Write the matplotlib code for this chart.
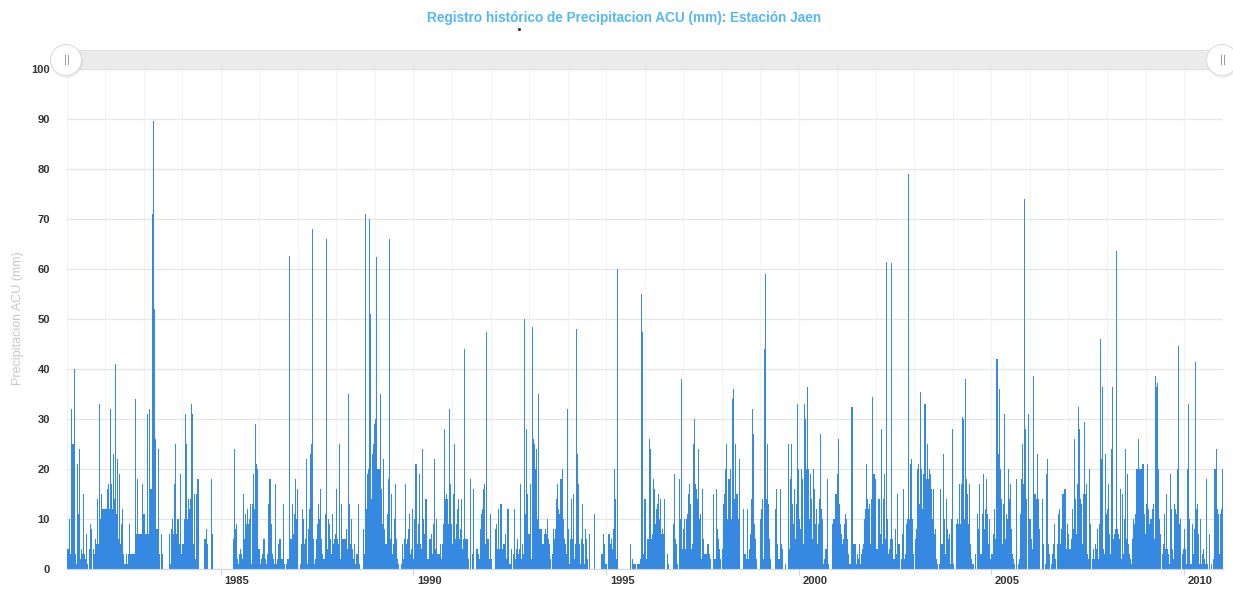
import numpy as np
import matplotlib.pyplot as plt
from matplotlib.patches import Rectangle, Circle
from matplotlib.transforms import ScaledTranslation

plt.rcParams['font.family'] = ['Liberation Sans', 'DejaVu Sans']

# precipitation (mm), ~38 readings per year
r1981 = [4, 4, 10, 3, 32, 25, 25, 40, 3, 1, 21, 11, 24, 2, 4, 3, 15, 3, 2, 7, 1, 0, 4, 9, 8, 0, 4, 3, 6, 5, 14, 5, 33, 10, 15, 12, 12, 12]
r1982 = [12, 12, 16, 17, 12, 32, 17, 12, 23, 14, 41, 11, 22, 6, 19, 5, 9, 12, 3, 1, 3, 1, 3, 9, 3, 3, 3, 3, 3, 34, 7, 18, 7, 7, 7, 7, 17, 11]
r1983 = [11, 7, 7, 31, 7, 32, 16, 16, 71, 89.7, 52, 26, 8, 8, 24, 3, 0, 7, 3, 0, 0, 0, 0, 0, 0, 7, 1, 8, 10, 7, 17, 25, 7, 10, 10, 5, 19, 3]
r1984 = [5, 5, 10, 31, 25, 10, 14, 12, 14, 33, 31, 5, 15, 2, 15, 18, 0, 0, 0, 0, 0, 6, 6, 8, 5, 0, 0, 0, 18, 7, 0, 0, 0, 0, 0, 0, 0, 0]
r1985 = [0, 0, 0, 0, 0, 0, 0, 0, 0, 0, 0, 0, 6, 24, 8, 9, 2, 1, 3, 4, 3, 2, 15, 6, 11, 9, 12, 9, 10, 13, 1, 13, 19, 12, 29, 21, 20, 4]
r1986 = [4, 1, 2, 3, 6, 6, 2, 1, 3, 13, 18, 9, 3, 2, 1, 17, 1, 2, 5, 6, 6, 2, 2, 13, 1, 0, 1, 2, 2, 62.7, 6, 6, 13, 7, 11, 18, 10, 16]
r1987 = [0, 0, 1, 5, 12, 10, 5, 6, 22, 1, 8, 12, 23, 25, 68, 6, 1, 2, 6, 9, 13, 10, 16, 6, 3, 2, 2, 11, 66, 4, 10, 9, 6, 3, 11, 5, 6, 7]
r1988 = [16, 6, 5, 25, 2, 13, 6, 6, 6, 8, 4, 35, 13, 5, 10, 4, 2, 5, 1, 3, 3, 13, 1, 0, 0, 0, 8, 3, 71, 12, 19, 20, 70, 51, 14, 23, 25, 29]
r1989 = [30, 62.5, 20, 20, 20, 35, 16, 9, 22, 8, 5, 5, 11, 18, 66, 6, 15, 3, 5, 10, 17, 6, 2, 1, 0, 0, 1, 5, 2, 6, 17, 5, 6, 8, 11, 3, 4, 12]
r1990 = [2, 10, 21, 5, 9, 19, 5, 4, 24, 10, 7, 14, 14, 2, 2, 6, 6, 7, 3, 9, 22, 4, 10, 3, 3, 3, 5, 2, 5, 9, 28, 14, 15, 14, 9, 32, 17, 9]
r1991 = [5, 15, 25, 6, 9, 12, 14, 6, 8, 14, 4, 6, 44, 6, 6, 6, 2, 0, 18, 0, 3, 16, 0, 0, 4, 4, 3, 2, 8, 11, 12, 16, 17, 5, 47.5, 6, 2, 11]
r1992 = [2, 0, 0, 0, 8, 9, 4, 12, 4, 13, 13, 4, 5, 5, 7, 2, 12, 12, 1, 1, 4, 0, 3, 12, 2, 4, 6, 3, 4, 17, 2, 5, 3, 50, 11, 28, 15, 7]
r1993 = [7, 17, 2, 48.5, 26, 25, 20, 24, 10, 35, 8, 8, 8, 5, 5, 7, 8, 7, 10, 6, 5, 2, 0, 3, 8, 6, 8, 14, 17, 12, 11, 18, 20, 10, 6, 5, 3, 32]
r1994 = [8, 1, 6, 14, 6, 15, 2, 5, 48, 23, 17, 5, 1, 6, 13, 5, 1, 8, 6, 2, 0, 7, 0, 0, 0, 0, 11, 0, 0, 0, 0, 0, 0, 3, 3, 7, 5, 1]
r1995 = [1, 0, 7, 7, 5, 6, 4, 8, 20, 14, 2, 60, 0, 0, 0, 0, 0, 0, 0, 0, 0, 0, 0, 0, 5, 0, 2, 1, 1, 0, 1, 1, 1, 2, 55, 47.5, 3, 14]
r1996 = [14, 2, 6, 6, 26, 24, 6, 7, 18, 16, 9, 12, 13, 15, 10, 14, 7, 8, 7, 14, 0, 0, 3, 1, 0, 0, 0, 0, 9, 19, 6, 5, 1, 0, 18, 10, 38, 4]
r1997 = [8, 10, 4, 10, 11, 15, 17, 13, 4, 5, 25, 30, 17, 16, 14, 24, 10, 11, 2, 16, 6, 3, 3, 5, 5, 3, 2, 0, 0, 15, 2, 2, 16, 8, 6, 4, 2, 0]
r1998 = [4, 13, 15, 20, 25, 10, 18, 18, 20, 10, 34, 36, 14, 25, 15, 15, 10, 22, 0, 0, 0, 12, 3, 3, 2, 12, 2, 4, 7, 14, 32, 27, 9, 6, 2, 0, 0, 0]
r1999 = [10, 12, 14, 2, 44, 59, 14, 25, 13, 6, 2, 0, 0, 0, 0, 12, 16, 5, 2, 16, 5, 4, 0, 0, 1, 0, 0, 25, 4, 18, 25, 13, 9, 16, 6, 13, 33, 20]
r2000 = [10, 8, 20, 18, 5, 33, 30, 20, 36.5, 20, 10, 19, 14, 6, 20, 16, 9, 12, 5, 9, 14, 27, 12, 10, 1, 2, 4, 4, 18, 1, 0, 0, 0, 9, 10, 10, 15, 15]
r2001 = [19, 26, 13, 9, 7, 5, 6, 9, 11, 10, 6, 3, 1, 1, 32.5, 5, 5, 5, 1, 3, 2, 5, 1, 3, 4, 5, 10, 12, 21, 14, 12, 13, 5, 14, 34.5, 19, 19, 18]
r2002 = [4, 4, 14, 14, 7, 28, 5, 14, 19, 6, 61.5, 10, 3, 4, 6, 61.3, 6, 2, 2, 8, 3, 15, 5, 5, 0, 2, 7, 16, 2, 3, 9, 10, 79, 10, 21, 22, 10, 3]
r2003 = [0, 6, 8, 20, 21, 13, 35.5, 20, 12, 19, 33, 18, 25, 18, 20, 19, 16, 10, 16, 7, 8, 2, 1, 0, 1, 16, 5, 5, 23, 10, 3, 14, 8, 6, 7, 1, 10, 28]
r2004 = [1, 0, 0, 9, 10, 9, 17, 9, 17, 30.5, 30, 10, 38, 18, 15, 9, 17, 5, 2, 1, 1, 0, 3, 0, 11, 8, 17, 3, 3, 11, 19, 8, 12, 18, 11, 5, 10, 2]
r2005 = [3, 3, 7, 12, 6, 42, 23, 36, 20, 14, 5, 13, 31, 6, 11, 10, 20, 14, 17, 8, 3, 2, 1, 0, 18, 0, 1, 2, 11, 18, 25, 17, 74, 28, 14, 0, 31, 10]
r2006 = [10, 6, 4, 38.7, 15, 15, 14, 23, 14, 8, 0, 0, 14, 5, 0, 1, 19, 22, 5, 3, 0, 1, 3, 5, 9, 2, 0, 5, 11, 12, 5, 8, 15, 15, 16, 16, 4, 9]
r2007 = [7, 4, 6, 12, 8, 26, 14, 7, 17, 32.5, 28, 14, 13, 5, 15, 29.5, 15, 17, 3, 2, 20, 9, 0, 2, 4, 2, 5, 4, 8, 2, 9, 46, 22, 36.5, 4, 3, 23, 11]
r2008 = [12, 17, 7, 3, 24, 36.5, 6, 7, 8, 63.7, 8, 7, 6, 16, 2, 15, 3, 10, 24, 6, 19, 5, 3, 2, 1, 6, 10, 9, 11, 20, 20, 26, 20, 20, 20, 21, 11, 7]
r2009 = [13, 21, 12, 9, 10, 10, 12, 13, 6, 38.7, 36.5, 37.3, 20, 10, 7, 0, 3, 5, 11, 4, 15, 4, 3, 1, 19, 12, 4, 2, 13, 12, 11, 20, 44.6, 9, 10, 0, 3, 4]
r2010 = [8, 4, 1, 20, 33, 10, 1, 1, 9, 3, 8, 41.4, 12, 13, 7, 1, 10, 1, 3, 4, 2, 1, 18, 1, 0, 7, 0, 1, 0, 2, 20, 24, 12, 11, 3, 11, 12, 20]

years = list(range(1981, 2011))
rain = [r1981, r1982, r1983, r1984, r1985, r1986, r1987, r1988, r1989, r1990,
        r1991, r1992, r1993, r1994, r1995, r1996, r1997, r1998, r1999, r2000,
        r2001, r2002, r2003, r2004, r2005, r2006, r2007, r2008, r2009, r2010]

title = 'Registro histórico de Precipitacion ACU (mm): Estación Jaen'
ylabel = 'Precipitacion ACU (mm)'
bar_color = '#3689e0'

x = np.concatenate([yr + (np.arange(len(v)) + 0.5) / len(v) for yr, v in zip(years, rain)])
y = np.concatenate([np.asarray(v, dtype=float) for v in rain])

W, H = 1233, 590
fig = plt.figure(figsize=(W / 100, H / 100), dpi=100)
ax = fig.add_axes([66.7 / W, 21 / H, (1222.6 - 66.7) / W, 500 / H])

ax.bar(x, y, width=1 / 38, color=bar_color, linewidth=0)

ax.set_xlim(1981, 2011)
ax.set_ylim(0, 100)
ax.set_yticks(range(0, 101, 10))
ax.set_xticks(range(1985, 2011, 5))
ax.set_xticks(range(1981, 2012), minor=True)
ax.grid(axis='y', color='#e6e6e6', lw=0.9)
ax.grid(axis='x', which='both', color='#f3f3f3', lw=0.8)
ax.set_axisbelow(True)
for s in ['top', 'right', 'left']:
    ax.spines[s].set_visible(False)
ax.spines['bottom'].set_color('#ccd6eb')
ax.tick_params(axis='y', length=0, pad=12, labelsize=8, labelcolor='#333333')
ax.tick_params(axis='x', which='major', length=4, color='#ccd6eb', pad=1,
               labelsize=8, labelcolor='#333333')
ax.tick_params(axis='x', which='minor', length=0)
for lbl in ax.get_yticklabels() + ax.get_xticklabels():
    lbl.set_fontweight('bold')
shift = ScaledTranslation(16 / 100, 0, fig.dpi_scale_trans)
for lbl in ax.get_xticklabels():
    lbl.set_transform(lbl.get_transform() + shift)

fig.text(624 / W, 1 - 18 / H, title, ha='center', va='center', color='#55b7f5',
         fontsize=9.8, fontweight='bold')
fig.text(18 / W, 1 - 318 / H, ylabel, ha='center', va='center', rotation=90,
         color='#c8c8c8', fontsize=9)

# navigator bar on top
ov = fig.add_axes([0, 0, 1, 1])
ov.set_xlim(0, W)
ov.set_ylim(H, 0)
ov.axis('off')
ov.add_patch(Rectangle((66, 50), 1156, 19, fc='#ebebeb', ec='#e2e2e2', lw=0.8))
for cx in (66, 1222):
    ov.add_patch(Circle((cx + 1, 62), 16, fc='#000000', alpha=0.06, ec='none'))
    ov.add_patch(Circle((cx, 60), 15.5, fc='white', ec='#dddddd', lw=0.8))
    ov.plot([cx - 1.5, cx - 1.5], [55, 64], color='#999999', lw=0.7)
    ov.plot([cx + 1.5, cx + 1.5], [55, 64], color='#999999', lw=0.7)
ov.plot(519, 29, marker='.', ms=2.5, color='#333333')

fig.savefig('out.png', dpi=100)
